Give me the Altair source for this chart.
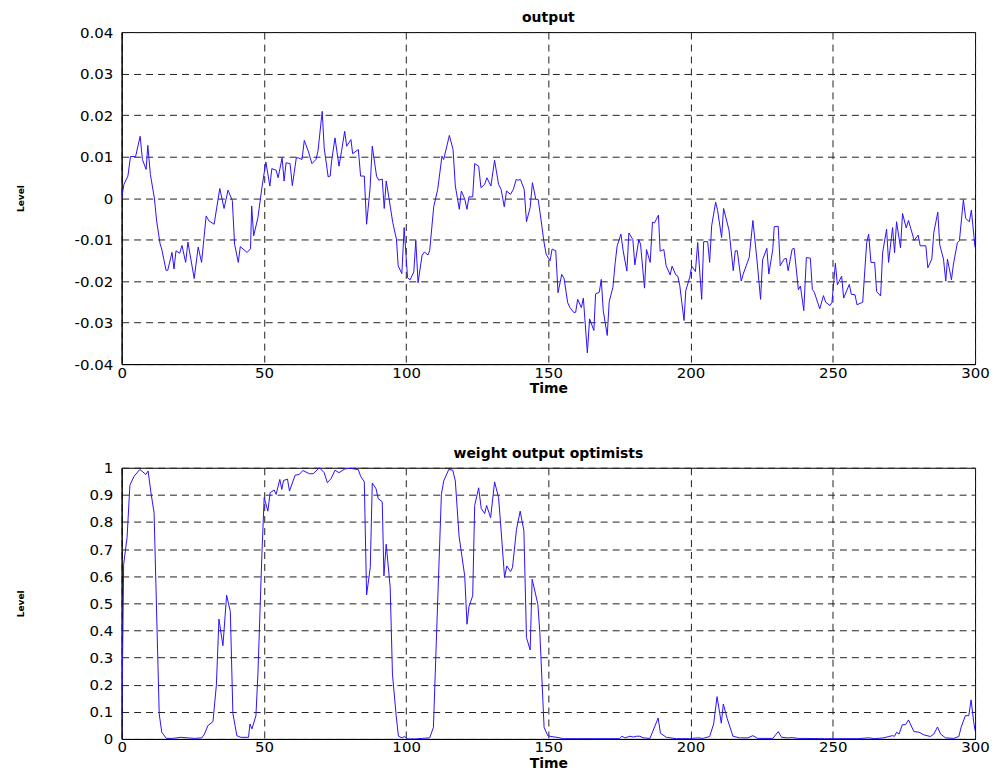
import altair as alt
import pandas as pd

# ---- top panel: "output" ----
out_t = [0, 0.8, 2.2, 3.1, 4.9, 6.5, 7.3, 8.6, 9.2, 10.1, 11.5, 12.3, 13.5, 14.1, 15.6, 16.2,
         17.7, 18.4, 19.1, 20.4, 21.2, 22.5, 23.3, 25.5, 26.9, 28.1, 29.7, 30.7, 32.5, 34.5,
         36.0, 37.4, 38.9, 39.7, 41.0, 41.7, 44.1, 45.3, 45.7, 46.4, 47.9, 49.3, 50.7, 52.1,
         52.8, 54.3, 55.0, 56.4, 57.1, 57.8, 59.2, 60.0, 61.4, 62.1, 63.4, 64.2, 65.6, 66.9,
         68.3, 69.0, 70.5, 71.2, 72.6, 73.3, 73.8, 75.0, 76.4, 77.3, 78.4, 79.1, 80.6, 81.2,
         83.2, 84.0, 85.3, 86.1, 87.3, 88.1, 89.6, 90.4, 91.6, 92.3, 93.0, 93.9, 95.3, 96.6,
         97.2, 98.5, 99.3, 100.5, 101.4, 102.7, 103.4, 104.2, 105.6, 106.4, 107.7, 108.3,
         109.7, 111.1, 112.6, 113.2, 115.2, 116.5, 117.3, 118.7, 119.4, 120.6, 121.4, 122.1,
         123.4, 124.1, 125.5, 126.3, 127.6, 128.4, 129.8, 131.1, 132.5, 133.4, 134.5, 135.3,
         136.7, 137.7, 138.7, 139.3, 140.2, 141.5, 142.3, 143.6, 144.4, 145.6, 146.4, 147.4,
         148.4, 149.2, 150.6, 151.3, 152.6, 153.4, 154.7, 155.5, 156.8, 157.6, 159.0, 159.6,
         160.3, 161.6, 162.3, 163.7, 164.5, 166.0, 166.6, 167.9, 168.6, 169.3, 170.7, 171.4,
         172.7, 173.5, 174.2, 175.5, 176.3, 177.6, 178.3, 179.7, 180.4, 181.8, 182.4, 183.8,
         184.5, 185.8, 186.6, 187.3, 188.7, 189.3, 190.6, 191.4, 192.8, 193.5, 194.8, 195.5,
         196.2, 196.9, 197.7, 198.3, 199.7, 200.4, 201.7, 202.5, 203.9, 204.6, 206.0, 206.7,
         207.4, 208.8, 209.5, 210.9, 211.6, 213.5, 215.0, 215.7, 216.4, 217.8, 218.5, 220.6,
         221.9, 223.3, 224.6, 225.3, 226.8, 227.5, 228.9, 229.4, 230.8, 231.5, 232.9, 233.6,
         234.3, 235.7, 236.4, 237.9, 238.6, 239.8, 240.7, 242.1, 242.8, 243.5, 245.4, 246.7,
         247.5, 249.0, 249.7, 250.9, 251.6, 253.1, 253.8, 255.8, 256.5, 257.8, 258.5, 260.5,
         261.9, 262.6, 263.4, 264.7, 265.4, 266.8, 267.5, 268.9, 269.6, 271.0, 271.7, 272.4,
         273.8, 274.5, 275.8, 276.6, 278.6, 280.0, 280.7, 282.7, 283.4, 284.8, 285.5, 286.9,
         287.6, 288.9, 289.7, 290.3, 291.7, 292.4, 293.8, 294.5, 295.9, 296.7, 298.0, 298.7,
         300.0]
out_v = [0, 0.0033, 0.0053, 0.0100, 0.0100, 0.0149, 0.0093, 0.0069, 0.0127, 0.0057, 0.0000,
         -0.0055, -0.0110, -0.0123, -0.0174, -0.0174, -0.0131, -0.0171, -0.0127, -0.0133,
         -0.0114, -0.0155, -0.0106, -0.0194, -0.0118, -0.0155, -0.0043, -0.0055, -0.0063,
         0.0023, -0.0025, 0.0019, -0.0006, -0.0111, -0.0155, -0.0117, -0.0131, -0.0122,
         -0.0019, -0.0091, -0.0047, 0.0025, 0.0087, 0.0029, 0.0071, 0.0067, 0.0049, 0.0097,
         0.0041, 0.0085, 0.0083, 0.0030, 0.0097, 0.0097, 0.0093, 0.0139, 0.0113, 0.0083,
         0.0093, 0.0113, 0.0209, 0.0121, 0.0051, 0.0053, 0.0089, 0.0145, 0.0077, 0.0113,
         0.0161, 0.0125, 0.0141, 0.0107, 0.0117, 0.0053, 0.0053, -0.0063, 0.0021, 0.0125,
         0.0053, 0.0043, 0.0046, -0.0025, 0.0041, 0.0003, -0.0059, -0.0099, -0.0163, -0.0182,
         -0.0071, -0.0192, -0.0197, -0.0178, -0.0102, -0.0204, -0.0138, -0.0130, -0.0137,
         -0.0126, -0.0021, 0.0021, 0.0101, 0.0093, 0.0151, 0.0117, 0.0029, -0.0027, 0.0017,
         -0.0002, -0.0027, 0.0003, 0.0003, 0.0083, 0.0077, 0.0025, 0.0033, 0.0049, 0.0029,
         0.0091, 0.0033, 0.0021, -0.0021, 0.0017, 0.0009, 0.0021, 0.0045, 0.0043, 0.0045,
         0.0021, -0.0057, -0.0023, 0.0037, -0.0003, -0.0003, -0.0051, -0.0103, -0.0135,
         -0.0151, -0.0123, -0.0127, -0.0228, -0.0184, -0.0193, -0.0252, -0.0264, -0.0276,
         -0.0275, -0.0244, -0.0264, -0.0241, -0.0373, -0.0291, -0.0319, -0.0231, -0.0227,
         -0.0196, -0.0271, -0.0331, -0.0249, -0.0215, -0.0155, -0.0115, -0.0087, -0.0127,
         -0.0176, -0.0084, -0.0100, -0.0161, -0.0100, -0.0111, -0.0217, -0.0124, -0.0155,
         -0.0058, -0.0060, -0.0041, -0.0128, -0.0124, -0.0163, -0.0185, -0.0164, -0.0185,
         -0.0188, -0.0211, -0.0251, -0.0295, -0.0223, -0.0191, -0.0164, -0.0177, -0.0107,
         -0.0244, -0.0105, -0.0105, -0.0155, -0.0067, -0.0010, -0.0030, -0.0095, -0.0025,
         -0.0077, -0.0175, -0.0127, -0.0127, -0.0200, -0.0183, -0.0143, -0.0054, -0.0147,
         -0.0244, -0.0149, -0.0121, -0.0183, -0.0123, -0.0069, -0.0068, -0.0163, -0.0147,
         -0.0145, -0.0175, -0.0123, -0.0121, -0.0221, -0.0212, -0.0271, -0.0143, -0.0145,
         -0.0220, -0.0227, -0.0267, -0.0235, -0.0251, -0.0259, -0.0251, -0.0157, -0.0209,
         -0.0188, -0.0241, -0.0208, -0.0232, -0.0233, -0.0257, -0.0251, -0.0107, -0.0087,
         -0.0155, -0.0155, -0.0225, -0.0236, -0.0132, -0.0075, -0.0155, -0.0071, -0.0132,
         -0.0057, -0.0120, -0.0037, -0.0072, -0.0054, -0.0102, -0.0089, -0.0115, -0.0115,
         -0.0168, -0.0147, -0.0083, -0.0034, -0.0113, -0.0147, -0.0200, -0.0147, -0.0197,
         -0.0159, -0.0107, -0.0103, -0.0004, -0.0049, -0.0057, -0.0029, -0.0119]

# ---- bottom panel: "weight output optimists" ----
w_t = [0, 0.7, 1.9, 2.9, 4.4, 6.4, 8.5, 9.3, 10.3, 11.4, 12.1, 13.2, 14.1, 15.7, 18.0, 20.9,
       23.2, 25.6, 28.2, 29.1, 30.3, 32.1, 33.3, 34.2, 35.6, 36.9, 38.2, 39.1, 40.5, 41.9,
       44.6, 45.1, 45.8, 47.2, 47.9, 49.3, 50.1, 51.4, 52.2, 53.6, 54.3, 55.6, 56.3, 56.9,
       58.3, 59.0, 61.0, 62.4, 63.7, 66.0, 67.3, 69.5, 71.2, 72.3, 73.6, 75.0, 76.4, 78.5,
       80.5, 83.2, 84.0, 85.3, 86.1, 87.4, 88.1, 89.4, 90.2, 91.6, 92.2, 93.0, 94.4, 95.2,
       96.5, 97.3, 98.6, 99.3, 100.6, 103.3, 105.6, 108.3, 109.6, 111.1, 112.4, 113.2, 115.0,
       116.4, 117.3, 118.6, 120.6, 121.4, 122.1, 123.4, 124.1, 125.5, 126.4, 127.6, 128.3,
       129.7, 131.1, 132.5, 133.4, 134.6, 135.4, 136.7, 137.4, 138.8, 140.1, 141.4, 142.3,
       143.6, 144.3, 146.3, 147.0, 148.5, 149.8, 150.9, 153.0, 155.3, 160.0, 165.8, 171.7,
       175.0, 175.8, 176.9, 178.7, 179.8, 181.0, 182.2, 183.3, 185.7, 188.6, 189.4, 191.5,
       195.0, 199.7, 202.6, 204.4, 206.7, 208.1, 209.3, 210.8, 211.5, 212.9, 214.9, 217.2,
       220.1, 221.9, 223.6, 228.9, 230.8, 232.0, 234.1, 235.9, 237.6, 247.0, 258.6, 262.7,
       264.5, 268.0, 269.7, 270.9, 271.7, 272.4, 273.3, 274.4, 275.6, 276.6, 278.5, 280.3,
       282.0, 284.3, 285.5, 286.8, 287.9, 289.6, 292.5, 294.3, 295.1, 296.6, 297.8, 298.6,
       299.5, 300.0]
w_v = [0, 0.644, 0.742, 0.936, 0.969, 0.994, 0.975, 0.988, 0.908, 0.834, 0.546, 0.092, 0.025,
       0.002, 0.002, 0.006, 0.004, 0.002, 0.004, 0.018, 0.049, 0.064, 0.199, 0.442, 0.344,
       0.530, 0.470, 0.094, 0.012, 0.006, 0.006, 0.055, 0.037, 0.086, 0.239, 0.681, 0.890,
       0.840, 0.908, 0.918, 0.902, 0.957, 0.920, 0.953, 0.958, 0.914, 0.973, 0.975, 0.990,
       0.978, 0.978, 1.000, 0.982, 0.945, 0.960, 0.991, 0.982, 0.996, 0.998, 0.993, 0.969,
       0.948, 0.531, 0.632, 0.944, 0.923, 0.886, 0.875, 0.601, 0.718, 0.558, 0.239, 0.086,
       0.010, 0.004, 0.009, 0.000, 0.000, 0.002, 0.004, 0.043, 0.509, 0.902, 0.951, 0.994,
       0.991, 0.951, 0.748, 0.601, 0.423, 0.488, 0.528, 0.861, 0.926, 0.850, 0.831, 0.861,
       0.816, 0.948, 0.890, 0.767, 0.595, 0.638, 0.617, 0.632, 0.773, 0.840, 0.767, 0.374,
       0.328, 0.589, 0.497, 0.393, 0.043, 0.012, 0.009, 0.006, 0.001, 0.001, 0.001, 0.001,
       0.001, 0.010, 0.004, 0.010, 0.007, 0.010, 0.010, 0.004, 0.002, 0.077, 0.021, 0.006,
       0.001, 0.001, 0.004, 0.002, 0.009, 0.055, 0.156, 0.058, 0.129, 0.074, 0.010, 0.004,
       0.004, 0.012, 0.002, 0.002, 0.027, 0.006, 0.004, 0.005, 0.002, 0.001, 0.001, 0.004,
       0.001, 0.004, 0.009, 0.012, 0.010, 0.025, 0.018, 0.052, 0.053, 0.070, 0.027, 0.025,
       0.015, 0.009, 0.018, 0.044, 0.018, 0.004, 0.002, 0.009, 0.043, 0.086, 0.086, 0.144,
       0.065, 0.031]

x_ticks = [0, 50, 100, 150, 200, 250, 300]
out_ticks = [-0.04, -0.03, -0.02, -0.01, 0, 0.01, 0.02, 0.03, 0.04]
w_ticks = [0, 0.1, 0.2, 0.3, 0.4, 0.5, 0.6, 0.7, 0.8, 0.9, 1]

df_out = pd.DataFrame({"t": out_t, "v": out_v})
df_w = pd.DataFrame({"t": w_t, "v": w_v})

FONT = "DejaVu Sans"
LINE = "#2a10ff"


def panel(df, title, yticks, ydom, label_expr, h):
    x = alt.X("t:Q", scale=alt.Scale(domain=[0, 300], nice=False),
              axis=alt.Axis(values=x_ticks, title="Time", format="d", labelFlush=False,
                            labelPadding=1, titlePadding=2))
    y = alt.Y("v:Q", scale=alt.Scale(domain=ydom, nice=False, zero=False),
              axis=alt.Axis(values=yticks, title="Level", labelExpr=label_expr,
                            labelFlush=False, titleX=-96, titleFontSize=9,
                            labelPadding=9))
    return (alt.Chart(df)
            .mark_line(color=LINE, strokeWidth=1, clip=True)
            .encode(x=x, y=y, order="t:Q")
            .properties(width=856, height=h,
                        title=alt.TitleParams(title, fontSize=14, font=FONT,
                                              fontWeight="bold", offset=0)))


top = panel(df_out, "output", out_ticks, [-0.04, 0.04],
            "datum.value == 0 ? '0' : replace(format(datum.value, '.2f'), '\u2212', '-')", 333)
bottom = panel(df_w, "weight output optimists", w_ticks, [0, 1],
               "format(datum.value, '~g')", 272)

chart = (alt.vconcat(top, bottom, spacing=49)
         .configure(padding={"left": 8, "top": 1, "right": 5, "bottom": 0})
         .configure_view(stroke="black", strokeWidth=1)
         .configure_axis(labelFont=FONT, labelFontSize=15, labelColor="black",
                         titleFont=FONT, titleFontSize=14, titleFontWeight="bold",
                         titleColor="black", domainColor="black", ticks=False,
                         grid=True, gridColor="#222", gridDash=[7, 5], gridWidth=1,
                         gridOpacity=1))

chart.save("out.html", embed_options={"renderer": "svg", "actions": False})
